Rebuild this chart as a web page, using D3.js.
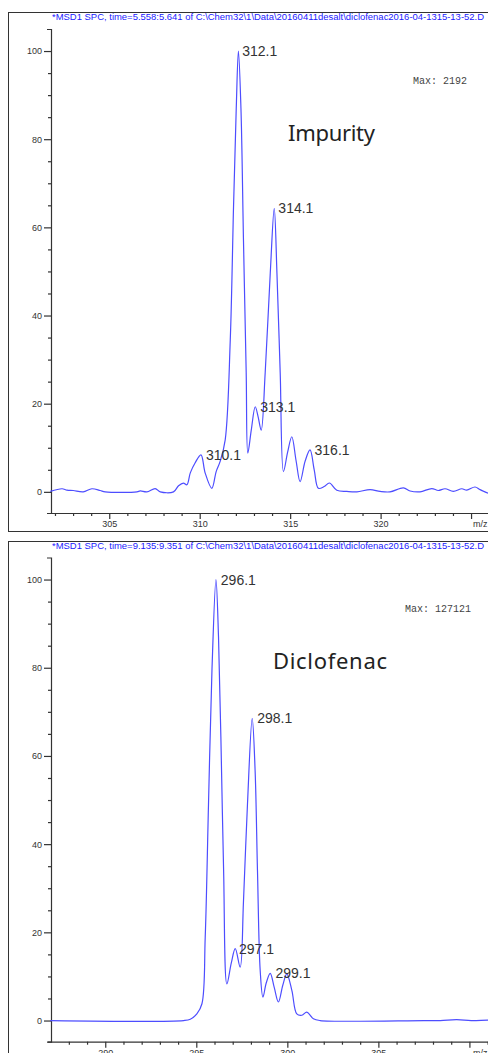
<!DOCTYPE html>
<html>
<head>
<meta charset="utf-8">
<script src="https://cdn.jsdelivr.net/npm/d3@7"></script>
<style>
  body { margin: 0; background: #fff; }
  svg { display: block; }
  .axis text { font-family: "Liberation Sans", Arial, sans-serif; font-size: 9px; fill: #333; }
  .axis line, .axis path { stroke: #333; stroke-width: 1.2px; }
  .peaklabel { font-family: "Liberation Sans", Arial, sans-serif; font-size: 14px; fill: #333; }
  .maxlabel { font-family: "Liberation Mono", monospace; font-size: 10px; fill: #444; }
  .title { font-family: "Liberation Sans", Arial, sans-serif; font-size: 8.5px; fill: #1a1aff; }
  .name { font-family: "Noto Sans", sans-serif; font-size: 22px; fill: #222; }
</style>
</head>
<body>
<div id="chart"></div>
<script>
// Impurity spectrum (m/z, relative abundance)
const impurityMz = [301.74, 302.39, 302.66, 303.01, 303.56, 304.04, 304.50, 304.78, 306.53, 306.71,
  307.08, 307.54, 307.82, 308.55, 308.83, 309.10, 309.29, 309.48, 309.75, 310.07,
  310.30, 310.67, 310.91, 311.13, 311.41, 311.69, 311.87, 312.02, 312.14, 312.28,
  312.42, 312.57, 312.66, 312.85, 313.07, 313.23, 313.40, 313.62, 313.90, 314.12,
  314.27, 314.45, 314.63, 314.86, 315.09, 315.33, 315.55, 315.83, 316.10, 316.33,
  316.56, 316.88, 317.17, 317.58, 318.13, 318.69, 319.42, 319.97, 320.52, 321.26,
  321.63, 322.18, 322.83, 323.19, 323.56, 324.02, 324.49, 324.76, 325.22, 325.50, 325.94];
const impurityInt = [0.1, 0.7, 0.4, 0.3, 0.0, 0.7, 0.3, 0.0, 0.0, 0.2,
  0.0, 0.75, 0.0, 0.0, 1.4, 2.0, 1.6, 4.3, 6.6, 8.4,
  4.3, 0.8, 4.6, 6.9, 11.8, 34.5, 64.7, 87, 100, 87,
  57, 27, 8.8, 14, 19.3, 17, 14, 27, 49.6, 64.3,
  49.6, 27, 4.6, 9, 12.5, 7, 2.3, 7, 9.5, 5,
  0.8, 1.2, 2.0, 0.35, 0.1, 0.0, 0.5, 0.1, 0.0, 0.9,
  0.2, 0.0, 0.75, 0.3, 0.7, 0.1, 0.7, 0.4, 1.1, 0.5, -0.3];
const impurityPeakMz = [310.1, 312.1, 313.1, 314.1, 316.1];
const impurityPeakInt = [8.4, 100, 19.3, 64.3, 9.5];

// Diclofenac spectrum
const diclofenacMz = [286.98, 294.30, 294.67, 295.03, 295.31, 295.49, 295.67, 295.86, 296.08, 296.22,
  296.35, 296.50, 296.68, 296.92, 297.14, 297.41, 297.59, 297.81, 298.07, 298.23,
  298.36, 298.51, 298.66, 298.84, 299.06, 299.28, 299.51, 299.75, 299.97, 300.25,
  300.52, 300.80, 301.07, 301.43, 301.80, 307.50, 308.40, 309.30, 310.10, 311.00, 311.70];
const diclofenacInt = [0, 0, 0.3, 1.5, 3.8, 18.9, 49, 79.4, 100, 87,
  64.3, 34, 8.3, 13, 16.3, 12.1, 26.9, 49, 68.5, 56.7,
  34, 11.3, 5.3, 8.5, 10.7, 7.5, 4.2, 8, 10.6, 6.8,
  1.5, 1.2, 1.9, 0.4, 0, 0, 0, 0.2, 0, 0.1, 0.1];
const diclofenacPeakMz = [296.1, 297.1, 298.1, 299.1];
const diclofenacPeakInt = [100, 16.3, 68.5, 10.7];

const yTicks = d3.range(0, 101, 5);

const width = 488, height = 1053;

let svg = d3.select("#chart").append("svg")
  .attr("width", width)
  .attr("height", height);

const panels = [
  { top: 12, title: "*MSD1 SPC, time=5.558:5.641 of C:\\Chem32\\1\\Data\\20160411desalt\\diclofenac2016-04-1315-13-52.D",
    mz: impurityMz, inten: impurityInt, peakMz: impurityPeakMz, peakInt: impurityPeakInt,
    xDomain: [301.78, 326.6], yRange: [513, 29], max: "Max: 2192", maxX: 413,
    name: "Impurity", nameX: 288, nameLen: 87 },
  { top: 541, title: "*MSD1 SPC, time=9.135:9.351 of C:\\Chem32\\1\\Data\\20160411desalt\\diclofenac2016-04-1315-13-52.D",
    mz: diclofenacMz, inten: diclofenacInt, peakMz: diclofenacPeakMz, peakInt: diclofenacPeakInt,
    xDomain: [287.02, 311.68], yRange: [1041.7, 557.5], max: "Max: 127121", maxX: 405,
    name: "Diclofenac", nameX: 273, nameLen: 114 }
];

panels.forEach(p => {
  const g = svg.append("g");

  // frame
  g.append("rect")
    .attr("x", 8.5).attr("y", p.top + 0.5)
    .attr("width", 600).attr("height", 519)
    .attr("fill", "none").attr("stroke", "#333").attr("stroke-width", 1);

  g.append("text")
    .attr("class", "title")
    .attr("x", 52).attr("y", p.top + 8)
    .attr("textLength", 432).attr("lengthAdjust", "spacingAndGlyphs")
    .text(p.title);

  let x = d3.scaleLinear().domain(p.xDomain).range([51, 500]);
  let y = d3.scaleLinear().domain([-4.8, 105]).range(p.yRange);

  // x axis; the last label is replaced by "m/z"
  const xTicks = d3.range(Math.ceil(p.xDomain[0]), Math.floor(p.xDomain[1]) + 1);
  const xAxis = g.append("g")
    .attr("class", "axis")
    .attr("transform", "translate(0," + p.yRange[0] + ")")
    .call(d3.axisBottom(x).tickValues(xTicks).tickSize(3).tickSizeOuter(0)
      .tickFormat(d => (d % 5 === 0 && x(d) < 455) ? d : ""));
  xAxis.select(".domain").attr("d", "M48," + 0.5 + "H500");
  xAxis.selectAll(".tick").filter(d => d % 5 === 0).select("line").attr("y2", 6);
  xAxis.selectAll(".tick text").attr("y", 8);
  xAxis.append("text")
    .attr("x", 473).attr("y", 8).attr("dy", "0.71em")
    .attr("text-anchor", "start")
    .text("m/z");

  // y axis
  const yAxis = g.append("g")
    .attr("class", "axis")
    .attr("transform", "translate(51,0)")
    .call(d3.axisLeft(y).tickValues(yTicks).tickSize(3).tickSizeOuter(4)
      .tickFormat(d => d % 20 === 0 ? d : ""));
  yAxis.selectAll(".tick").filter(d => d % 20 === 0).select("line").attr("x2", -7);
  yAxis.selectAll(".tick text").attr("x", -9);

  // trace
  const pts = p.mz.map((m, i) => [m, p.inten[i]]);
  g.append("path")
    .datum(pts)
    .attr("fill", "none")
    .attr("stroke", "#4d4dff")
    .attr("stroke-width", 1.2)
    .attr("d", d3.line().x(d => x(d[0])).y(d => y(d[1])).curve(d3.curveCatmullRom.alpha(0.5)));

  // peak labels
  g.selectAll(".peaklabel")
    .data(p.peakMz)
    .join("text")
    .attr("class", "peaklabel")
    .attr("x", d => x(d) + 4.5)
    .attr("y", (d, i) => y(p.peakInt[i]))
    .attr("dy", "0.36em")
    .text(d => d.toFixed(1));

  g.append("text")
    .attr("class", "maxlabel")
    .attr("x", p.maxX).attr("y", y(92.6))
    .text(p.max);

  g.append("text")
    .attr("class", "name")
    .attr("x", p.nameX).attr("y", y(81.5))
    .attr("dy", "0.36em")
    .attr("textLength", p.nameLen).attr("lengthAdjust", "spacing")
    .text(p.name);
});
</script>
</body>
</html>
